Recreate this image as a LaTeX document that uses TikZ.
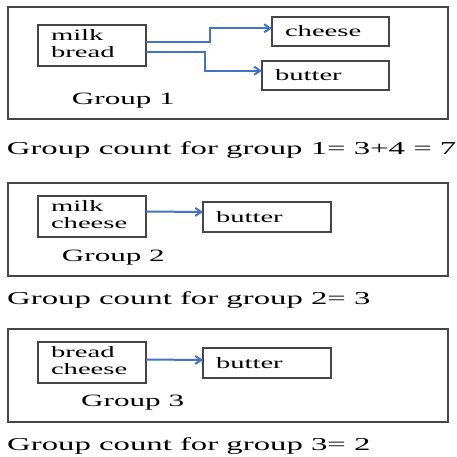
\documentclass[tikz,border=0pt]{standalone}
\usepackage{fontspec}
\setmainfont{Liberation Serif}
\usetikzlibrary{positioning, arrows.meta}
\definecolor{linkblue}{RGB}{68,114,196}
\definecolor{framegray}{RGB}{70,70,70}
\newcommand{\widetext}[1]{\scalebox{1.8}[1]{#1}}
\newcommand{\twolines}[2]{\raisebox{-1.5pt}{\widetext{\begin{tabular}{@{}l@{}}#1\\#2\end{tabular}}}}

\begin{document}
\begin{tikzpicture}[
        x=1pt, y=-1pt,
        frame/.style = {draw=framegray, line width=1.2pt, minimum width=440pt, inner sep=0pt, outer sep=0pt},
        item/.style = {draw=framegray, line width=1.2pt, inner xsep=13pt, inner ysep=0pt, outer sep=0pt, align=left, font=\fontsize{15.9}{17}\selectfont},
        grouplabel/.style = {anchor=base west, inner sep=0pt, font=\fontsize{17.3}{20}\selectfont},
        counttext/.style = {anchor=base west, inner sep=0pt, font=\fontsize{18.2}{22}\selectfont},
        link/.style = {-{Straight Barb[length=6pt,width=8pt]}, draw=linkblue, line width=2pt}
        ]
        \useasboundingbox (0,0) rectangle (456,457);

        % group 1
        \node[frame, minimum height=112pt] (grp1) at (228,63) {};
        \node[item, text width=82pt, minimum height=41pt] (mb1) at (92,45.5) {\twolines{milk}{bread}};
        \node[item, text width=91pt, minimum height=29pt] (ch1) at (330.5,31.5) {\widetext{cheese}};
        \node[item, text width=101pt, minimum height=29pt] (bu1) at (325.5,75.5) {\widetext{butter}};
        \node[grouplabel] (lab1) at (71.7,105) {\widetext{Group 1}};
        \draw[link] ([yshift=3.2pt]mb1.east) -- ++(64,0) |- ([yshift=3.2pt]ch1.west);
        \draw[link] ([yshift=-6.2pt]mb1.east) -- ++(59,0) |- ([yshift=4.8pt]bu1.west);
        \node[counttext] (cnt1) at (6.7,155) {\widetext{Group count for group 1= 3+4 = 7}};

        % group 2
        \node[frame, minimum height=93pt] (grp2) at (228,229.5) {};
        \node[item, text width=82pt, minimum height=41pt] (mc2) at (92,216.5) {\twolines{milk}{cheese}};
        \node[item, text width=102pt, minimum height=30pt] (bu2) at (267,217) {\widetext{butter}};
        \node[grouplabel] (lab2) at (61.7,261) {\widetext{Group 2}};
        \draw[link] ([yshift=5pt]mc2.east) -- ([yshift=5pt]bu2.west);
        \node[counttext] (cnt2) at (7,304.3) {\widetext{Group count for group 2= 3}};

        % group 3
        \node[frame, minimum height=93pt] (grp3) at (228,375.5) {};
        \node[item, text width=82pt, minimum height=41pt] (bc3) at (92,362.5) {\twolines{bread}{cheese}};
        \node[item, text width=102pt, minimum height=30pt] (bu3) at (267,363) {\widetext{butter}};
        \node[grouplabel] (lab3) at (81,406) {\widetext{Group 3}};
        \draw[link] ([yshift=3pt]bc3.east) -- ([yshift=3pt]bu3.west);
        \node[counttext] (cnt3) at (7,450) {\widetext{Group count for group 3= 2}};

\end{tikzpicture}
\end{document}
